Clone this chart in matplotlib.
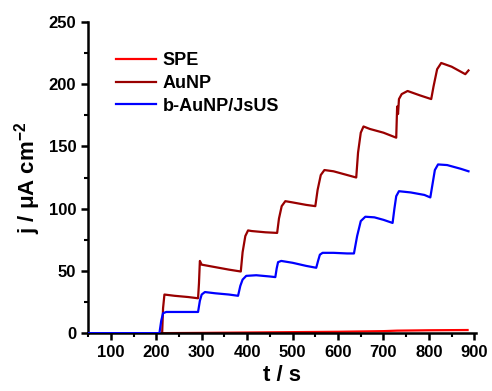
import numpy as np
import matplotlib
matplotlib.use("Agg")
import matplotlib.pyplot as plt
from matplotlib.ticker import MultipleLocator

plt.rcParams['font.family'] = ['Liberation Sans', 'DejaVu Sans']
plt.rcParams['font.weight'] = 'bold'
plt.rcParams['mathtext.fontset'] = 'custom'
plt.rcParams['mathtext.rm'] = 'Liberation Sans:bold'
plt.rcParams['mathtext.default'] = 'rm'

# SPE (bare electrode)
t_spe = [50, 210, 300, 400, 500, 600, 700, 730, 800, 885]
j_spe = [0, 0, 0.2, 0.5, 0.8, 1.1, 1.6, 2.0, 2.3, 2.5]

# AuNP
t_au = [50, 213, 215, 218, 240, 270, 292, 294, 296, 300, 330, 360, 386,
        390, 396, 402, 410, 440, 466, 470, 476, 484, 500, 530, 550,
        555, 562, 570, 590, 620, 640, 644, 650, 656, 670, 700, 728,
        730, 732, 734, 740, 753, 780, 805, 810, 818, 827, 850, 870, 880, 887]
j_au = [0, 0, 20, 31, 30, 29, 28, 40, 58, 55, 53, 51, 49.5,
        65, 78, 82.5, 82, 81, 80.5, 92, 102, 106, 105, 103, 102,
        115, 127, 131, 130, 127, 125, 145, 161, 166, 164, 161, 157,
        182, 176, 188, 192, 194.5, 191, 188, 198, 212, 217, 214, 210, 208, 211]

# b-AuNP/JsUS
t_bau = [50, 207, 211, 215, 222, 250, 292, 296, 300, 307, 330, 360, 380,
         385, 390, 398, 420, 450, 462, 465, 468, 475, 500, 530, 552,
         556, 560, 566, 590, 620, 635, 642, 650, 660, 680, 700, 720,
         724, 728, 734, 760, 790, 803, 808, 813, 820, 840, 870, 887]
j_bau = [0, 0, 10, 16, 17, 17, 17, 26, 31, 33, 32, 31, 30,
         38, 43, 46, 46.5, 45.5, 45, 52, 57, 58, 56.5, 54, 52.5,
         58, 63, 64.5, 64.5, 64, 64, 78, 90, 93.5, 93, 91, 88.5,
         100, 110, 114, 113, 111, 109, 120, 131, 135.5, 135, 132, 130]

fig = plt.figure(figsize=(4.92, 3.91), dpi=100)
ax = fig.add_axes([0.179, 0.148, 0.788, 0.796])

ax.plot(t_spe, j_spe, color='#ff0000', lw=1.6, label='SPE', zorder=1)
ax.plot(t_au, j_au, color='#990000', lw=1.6, label='AuNP', zorder=2)
ax.plot(t_bau, j_bau, color='#0000ff', lw=1.6, label='b-AuNP/JsUS', zorder=3)

ax.set_xlim(50, 903)
ax.set_ylim(0, 250)
ax.xaxis.set_major_locator(MultipleLocator(100))
ax.xaxis.set_minor_locator(MultipleLocator(50))
ax.yaxis.set_major_locator(MultipleLocator(50))
ax.yaxis.set_minor_locator(MultipleLocator(25))

for s in ['top', 'right']:
    ax.spines[s].set_visible(False)
for s in ['left', 'bottom']:
    ax.spines[s].set_linewidth(1.8)
ax.tick_params(which='major', direction='out', length=5, width=1.8, labelsize=12)
ax.tick_params(which='minor', direction='out', length=3, width=1.5)
ax.set_xticks([100, 200, 300, 400, 500, 600, 700, 800, 900])

ax.set_xlabel('t / s', fontsize=16, fontweight='bold', labelpad=4)
ax.set_ylabel('j / μA cm$^{-2}$', fontsize=16, fontweight='bold', labelpad=4)

leg = ax.legend(loc='upper left', bbox_to_anchor=(0.03, 0.955), frameon=False,
                fontsize=13, handlelength=2.2, handletextpad=0.4, labelspacing=0.32)

fig.savefig('out.png', dpi=100)
